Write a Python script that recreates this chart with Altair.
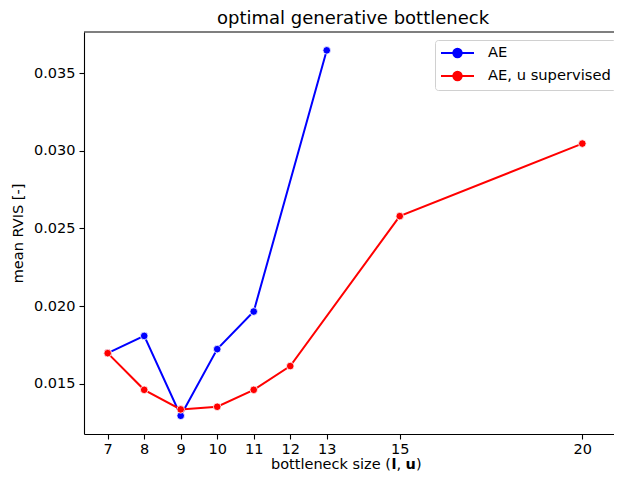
import altair as alt
import pandas as pd

# ---- data ----
ae_x = [7, 8, 9, 10, 11, 13]
ae_y = [0.01697, 0.01808, 0.01294, 0.01723, 0.01965, 0.03646]
sup_x = [7, 8, 9, 10, 11, 12, 15, 20]
sup_y = [0.01697, 0.01461, 0.01335, 0.01352, 0.01461, 0.01614, 0.02579, 0.03046]
series = ["AE", "AE, u supervised"]
colors = ["#0000ff", "#ff0000"]
x_ticks = [7, 8, 9, 10, 11, 12, 13, 15, 20]
y_ticks = [0.015, 0.020, 0.025, 0.030, 0.035]
xlabel_parts = ["bottleneck size (", "l", ", ", "u", ")"]
xlabel_bold = [False, True, False, True, False]

df = pd.concat([
    pd.DataFrame({"size": ae_x, "rvis": ae_y, "series": series[0]}),
    pd.DataFrame({"size": sup_x, "rvis": sup_y, "series": series[1]}),
], ignore_index=True)

W, H = 530, 402
FONT = "DejaVu Sans"
FS = 14.5

xscale = alt.Scale(domain=[6.351, 20.868], nice=False, zero=False)
yscale = alt.Scale(domain=[0.011767, 0.037641], nice=False, zero=False)
cscale = alt.Scale(domain=series, range=colors)

# legend glyph: a line with a filled dot (1 unit = 7 px)
legend_path = ("M-2.36,0L2.36,0"
               "M-0.6,0A0.6,0.6,0,1,1,0.6,0A0.6,0.6,0,1,1,-0.6,0"
               "M-0.4,0A0.4,0.4,0,1,1,0.4,0A0.4,0.4,0,1,1,-0.4,0"
               "M-0.2,0A0.2,0.2,0,1,1,0.2,0A0.2,0.2,0,1,1,-0.2,0")

x_enc = alt.X("size:Q", scale=xscale,
              axis=alt.Axis(values=x_ticks, title=None, format="d",
                            labelFlush=False, labelOverlap=False, labelPadding=3))
y_enc = alt.Y("rvis:Q", scale=yscale,
              axis=alt.Axis(values=y_ticks, title="mean RVIS [-]", format=".3f"))

layers = []
for i, s in enumerate(series):
    base = alt.Chart(df).transform_filter(alt.datum.series == s)
    leg = alt.Legend(title=None, orient="none", legendX=351, legendY=8,
                     symbolType=legend_path, symbolSize=196, symbolStrokeWidth=2,
                     symbolOffset=9.5, labelOffset=22.5,
                     labelFontSize=14.7, labelFont=FONT, labelColor="black",
                     padding=5, rowPadding=5, strokeColor="#d0d0d0", fillColor="white",
                     cornerRadius=3) if i == 0 else None
    line = base.mark_line(strokeWidth=2).encode(
        x=x_enc, y=y_enc,
        color=alt.Color("series:N", scale=cscale, legend=leg),
        order="size:Q",
    )
    pts = base.mark_point(filled=True, size=58, stroke="white", strokeWidth=0.8,
                          opacity=1, shape="circle").encode(
        x=x_enc, y=y_enc,
        fill=alt.Fill("series:N", scale=cscale, legend=None),
    )
    layers += [line, pts]

dummy = pd.DataFrame({"a": [0]})
top_spine = alt.Chart(dummy).mark_rule(color="black", strokeWidth=1.1).encode(
    x=alt.value(0), x2=alt.value(W), y=alt.value(0)
)
layers.append(top_spine)

# x-axis title with bold l and u
offsets = [187, 307.4, 312.4, 321.6, 331.9]
for txt, bold, xo in zip(xlabel_parts, xlabel_bold, offsets):
    layers.append(
        alt.Chart(dummy).mark_text(
            text=txt, font=FONT, fontSize=FS, fontWeight="bold" if bold else "normal",
            color="black", align="left", baseline="alphabetic",
        ).encode(x=alt.value(xo), y=alt.value(437))
    )

chart = alt.layer(*layers).properties(
    width=W, height=H,
    title=alt.TitleParams("optimal generative bottleneck", font=FONT, fontSize=18,
                          fontWeight="normal", color="black", offset=3.5, dx=4),
    autosize=alt.AutoSizeParams(type="none"),
    padding={"left": 76, "top": 24, "right": 0, "bottom": 37},
).configure_view(stroke=None).configure_axis(
    labelFont=FONT, labelFontSize=FS, labelColor="black",
    titleFont=FONT, titleFontSize=FS, titleFontWeight="normal", titleColor="black",
    domainColor="black", domainWidth=1.1, tickColor="black", tickWidth=1.1,
    tickSize=5, labelPadding=4, grid=False,
).configure_axisY(titlePadding=8)

chart.save("out.html", embed_options={"renderer": "svg", "actions": False})
